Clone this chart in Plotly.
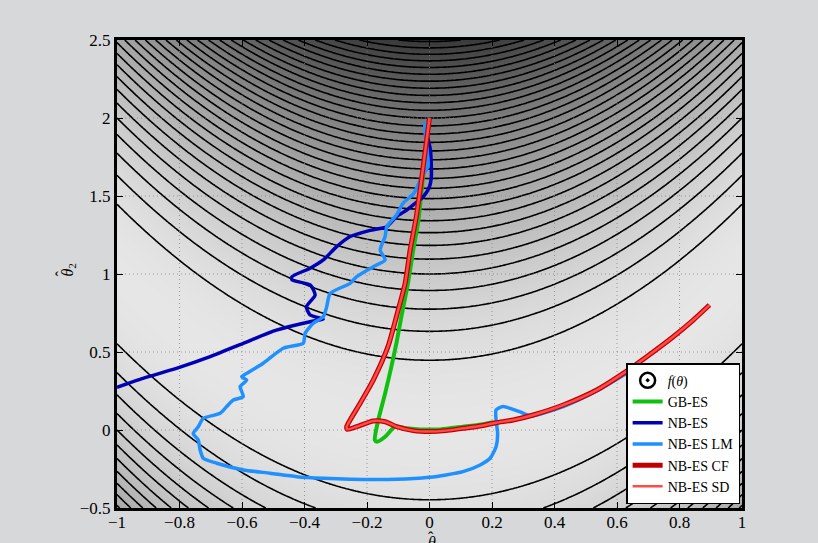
import numpy as np
import plotly.graph_objects as go

# ---------------- data ----------------
x_ticks = [-1, -0.8, -0.6, -0.4, -0.2, 0, 0.2, 0.4, 0.6, 0.8, 1]
y_ticks = [-0.5, 0, 0.5, 1, 1.5, 2, 2.5]

gb_x = [0.0, -0.012, -0.022, -0.035, -0.052, -0.069, -0.09, -0.106, -0.122, -0.142, -0.164,
        -0.175, -0.168, -0.142, -0.11, -0.073, -0.03, 0.034, 0.107, 0.165, 0.205]
gb_y = [2.0, 1.8, 1.6, 1.35, 1.154, 0.94, 0.726, 0.556, 0.406, 0.235, 0.064,
        -0.064, -0.075, -0.043, 0.021, 0.011, 0.004, 0.004, 0.021, 0.035, 0.05]

nb_x = [0.0, -0.01, -0.005, 0.003, 0.006, 0.0, -0.02, -0.046, -0.073, -0.106, -0.137, -0.19,
        -0.254, -0.297, -0.34, -0.382, -0.44, -0.44, -0.382, -0.366, -0.394, -0.382, -0.34,
        -0.382, -0.49, -0.596, -0.702, -0.81, -0.917, -1.0]
nb_y = [2.0, 1.95, 1.87, 1.795, 1.624, 1.56, 1.495, 1.453, 1.41, 1.367, 1.303, 1.28,
        1.24, 1.175, 1.09, 1.037, 0.983, 0.962, 0.93, 0.865, 0.79, 0.737, 0.71,
        0.694, 0.64, 0.556, 0.47, 0.395, 0.331, 0.274]

lm_x = [0.0, -0.015, -0.01, -0.005, -0.025, -0.05, -0.085, -0.105, -0.137, -0.142, -0.158,
        -0.142, -0.18, -0.233, -0.254, -0.318, -0.329, -0.34, -0.372, -0.398, -0.404, -0.468,
        -0.532, -0.585, -0.601, -0.585, -0.606, -0.596, -0.628, -0.649, -0.67, -0.724, -0.74,
        -0.756, -0.74, -0.734, -0.724, -0.681, -0.596, -0.51, -0.425, -0.34, -0.254, -0.105,
        0.0, 0.053, 0.107, 0.162, 0.194, 0.213, 0.218, 0.213, 0.213, 0.235, 0.288, 0.325,
        0.43, 0.535, 0.63]
lm_y = [2.0, 1.95, 1.84, 1.69, 1.624, 1.517, 1.453, 1.38, 1.303, 1.24, 1.154,
        1.09, 1.047, 0.983, 0.94, 0.876, 0.79, 0.726, 0.684, 0.62, 0.556, 0.524,
        0.428, 0.363, 0.342, 0.32, 0.278, 0.214, 0.192, 0.15, 0.107, 0.074, 0.021,
        -0.022, -0.064, -0.128, -0.181, -0.213, -0.256, -0.277, -0.299, -0.31, -0.316, -0.316,
        -0.303, -0.288, -0.267, -0.224, -0.181, -0.107, -0.022, 0.064, 0.128, 0.15, 0.118, 0.09,
        0.152, 0.25, 0.362]

cf_x = [0.0, -0.02, -0.042, -0.062, -0.078, -0.106, -0.133, -0.18, -0.222, -0.265, -0.263,
        -0.233, -0.18, -0.142, -0.105, -0.052, 0.0, 0.053, 0.107, 0.162, 0.213, 0.268, 0.332,
        0.428, 0.535, 0.62, 0.695, 0.78, 0.844, 0.896]
cf_y = [2.0, 1.69, 1.37, 1.154, 0.94, 0.726, 0.534, 0.32, 0.171, 0.021, 0.004,
        0.021, 0.058, 0.053, 0.021, -0.004, -0.01, -0.004, 0.011, 0.026, 0.047, 0.064, 0.096,
        0.160, 0.256, 0.363, 0.47, 0.598, 0.705, 0.801]
sd_x = cf_x
sd_y = cf_y

# ---------------- objective surface ----------------
gx = np.linspace(-1, 1, 241)
gy = np.linspace(-0.5, 2.5, 361)
GX, GY = np.meshgrid(gx, gy)
Z = (GY - GX ** 2) ** 2

SERIF = "Liberation Serif, Times New Roman, serif"
W, H = 818, 543
ML, MR, MT, MB = 117, 76, 40, 35
PW, PH = W - ML - MR, H - MT - MB


def px_x(px):
    return (px - ML) / PW


def px_y(py):
    return (H - MB - py) / PH


fig = go.Figure()

fig.add_trace(go.Contour(
    x=gx, y=gy, z=Z,
    zmin=0, zmax=6.25,
    colorscale=[[0, "#e6e6e6"], [1, "#393939"]],
    showscale=False,
    contours=dict(start=0.2, end=6.2, size=0.2, coloring="heatmap", showlines=True),
    line=dict(color="black", width=1.6, smoothing=1.0),
    hoverinfo="skip",
    showlegend=False,
))

# dotted grid drawn over the surface
gxs, gys = [], []
for t in x_ticks[1:-1]:
    gxs += [t, t, None]
    gys += [y_ticks[0], y_ticks[-1], None]
for t in y_ticks[1:-1]:
    gxs += [x_ticks[0], x_ticks[-1], None]
    gys += [t, t, None]
fig.add_trace(go.Scatter(x=gxs, y=gys, mode="lines",
                         line=dict(color="rgba(125,125,125,0.75)", width=1, dash="1px,3px"),
                         hoverinfo="skip", showlegend=False))

# legend entry for f(theta)
fig.add_trace(go.Scatter(x=[None], y=[None], mode="markers", name="<i>f</i>(<i>θ</i>)",
                         marker=dict(symbol="circle-open-dot", size=15, color="black",
                                     line=dict(width=2.5, color="black"))))

fig.add_trace(go.Scatter(x=gb_x, y=gb_y, mode="lines", name="GB-ES",
                         line=dict(color="#10c010", width=4, shape="spline", smoothing=0.6)))
fig.add_trace(go.Scatter(x=nb_x, y=nb_y, mode="lines", name="NB-ES",
                         line=dict(color="#0000b4", width=3.5, shape="spline", smoothing=0.6)))
fig.add_trace(go.Scatter(x=lm_x, y=lm_y, mode="lines", name="NB-ES LM",
                         line=dict(color="#1e90ff", width=3.5, shape="spline", smoothing=0.6)))
fig.add_trace(go.Scatter(x=cf_x, y=cf_y, mode="lines", name="NB-ES CF",
                         line=dict(color="#c00000", width=5, shape="spline", smoothing=0.6)))
fig.add_trace(go.Scatter(x=sd_x, y=sd_y, mode="lines", name="NB-ES SD",
                         line=dict(color="#ff4a4a", width=2.5, shape="spline", smoothing=0.6)))

axis_common = dict(
    ticks="inside", ticklen=6, tickwidth=1, tickcolor="black",
    showline=True, linewidth=3, linecolor="black", mirror="allticks",
    showgrid=False, zeroline=False, automargin=False,
    tickfont=dict(family=SERIF, size=17, color="black"),
)

tfont = dict(family=SERIF, size=16, color="black")
annotations = [
    # x-axis title (theta-hat 1), partly cut by the bottom edge as in the reference
    dict(text="<i>θ</i><sub>1</sub>", xref="paper", yref="paper",
         x=px_x(434), y=px_y(532), xanchor="center", yanchor="top",
         showarrow=False, font=tfont),
    dict(text="ˆ", xref="paper", yref="paper",
         x=px_x(431), y=px_y(527), xanchor="center", yanchor="top",
         showarrow=False, font=tfont),
    # y-axis title (theta-hat 2), rotated
    dict(text="<i>θ</i><sub>2</sub>", xref="paper", yref="paper",
         x=px_x(56), y=px_y(270), xanchor="left", yanchor="middle", textangle=-90,
         showarrow=False, font=tfont),
    dict(text="ˆ", xref="paper", yref="paper",
         x=px_x(50), y=px_y(274), xanchor="left", yanchor="middle", textangle=-90,
         showarrow=False, font=tfont),
]

fig.update_layout(
    width=W, height=H,
    margin=dict(l=ML, r=MR, t=MT, b=MB),
    paper_bgcolor="#d7d8da",
    plot_bgcolor="#e6e6e6",
    font=dict(family=SERIF, color="black"),
    xaxis=dict(range=[-1, 1], tickvals=x_ticks, ticklabelstandoff=-3, **axis_common),
    yaxis=dict(range=[-0.5, 2.5], tickvals=y_ticks, **axis_common),
    legend=dict(x=0.997, y=0.008, xanchor="right", yanchor="bottom",
                bgcolor="white", bordercolor="black", borderwidth=1.5,
                font=dict(family=SERIF, size=14, color="black"),
                itemwidth=30, tracegroupgap=0),
    annotations=annotations,
    showlegend=True,
)

fig.write_html("out.html", config={"displayModeBar": False},
               post_script="document.body.style.margin='0px';")
